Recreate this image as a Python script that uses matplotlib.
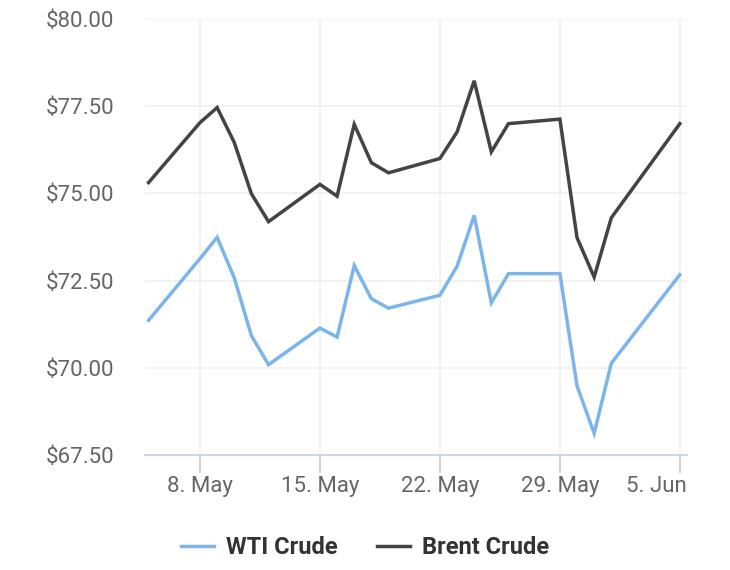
import matplotlib
matplotlib.use('Agg')
import matplotlib.pyplot as plt
import matplotlib.transforms as mtransforms
import pandas as pd

plt.rcParams['font.family'] = ['Roboto', 'DejaVu Sans']

dates = ['2023-05-05', '2023-05-08', '2023-05-09', '2023-05-10', '2023-05-11', '2023-05-12',
         '2023-05-15', '2023-05-16', '2023-05-17', '2023-05-18', '2023-05-19',
         '2023-05-22', '2023-05-23', '2023-05-24', '2023-05-25', '2023-05-26',
         '2023-05-29', '2023-05-30', '2023-05-31', '2023-06-01', '2023-06-05']
wti = [71.36, 73.13, 73.74, 72.58, 70.92, 70.09,
       71.14, 70.88, 72.93, 71.98, 71.71,
       72.08, 72.91, 74.37, 71.86, 72.70,
       72.70, 69.48, 68.12, 70.13, 72.67]
brent = [75.31, 77.03, 77.46, 76.46, 74.99, 74.19,
         75.26, 74.92, 76.98, 75.88, 75.59,
         76.00, 76.76, 78.23, 76.19, 77.00,
         77.13, 73.73, 72.60, 74.30, 77.00]
tick_dates = ['2023-05-08', '2023-05-15', '2023-05-22', '2023-05-29', '2023-06-05']
tick_labels = ['8. May', '15. May', '22. May', '29. May', '5. Jun']
y_ticks = [67.5, 70.0, 72.5, 75.0, 77.5, 80.0]

x = pd.to_datetime(dates)
xt = pd.to_datetime(tick_dates)

fig = plt.figure(figsize=(7.3, 5.7), dpi=100)
ax = fig.add_axes([145 / 730, 1 - 455 / 570, (687 - 145) / 730, (455 - 19) / 570])

ax.plot(x, wti, color='#7cb5ec', lw=2.5, label='WTI Crude', solid_joinstyle='miter')
ax.plot(x, brent, color='#434348', lw=2.5, label='Brent Crude', solid_joinstyle='miter')

ax.set_ylim(67.5, 80)
ax.set_yticks(y_ticks)
ax.set_yticklabels([f'${v:.2f}' for v in y_ticks])
ax.set_xlim(pd.Timestamp('2023-05-04 19:00'), pd.Timestamp('2023-06-05 10:00'))
ax.set_xticks(xt)
ax.set_xticklabels(tick_labels)

ax.grid(True, color='#f0f0f0', lw=1.2)
ax.set_axisbelow(True)
for s in ['top', 'right', 'left']:
    ax.spines[s].set_visible(False)
ax.spines['bottom'].set_color('#ccd6eb')
ax.spines['bottom'].set_linewidth(1.5)

ax.tick_params(axis='y', length=0, pad=22, labelsize=16, labelcolor='#666666')
ax.tick_params(axis='x', length=13, width=1.2, color='#c8c8c8', pad=2,
               labelsize=16, labelcolor='#666666')

# last label sits flush with the right end of the axis
last = ax.get_xticklabels()[-1]
last.set_horizontalalignment('right')
last.set_transform(last.get_transform() + mtransforms.ScaledTranslation(7 / 100, 0, fig.dpi_scale_trans))

leg = fig.legend(loc='center', bbox_to_anchor=(0.5, 1 - 548 / 570), ncol=2, frameon=False,
                 handlelength=1.4, handletextpad=0.5, columnspacing=1.7,
                 prop={'size': 17, 'weight': 'bold'})
for t in leg.get_texts():
    t.set_color('#333333')

fig.savefig('out.png', dpi=100)
